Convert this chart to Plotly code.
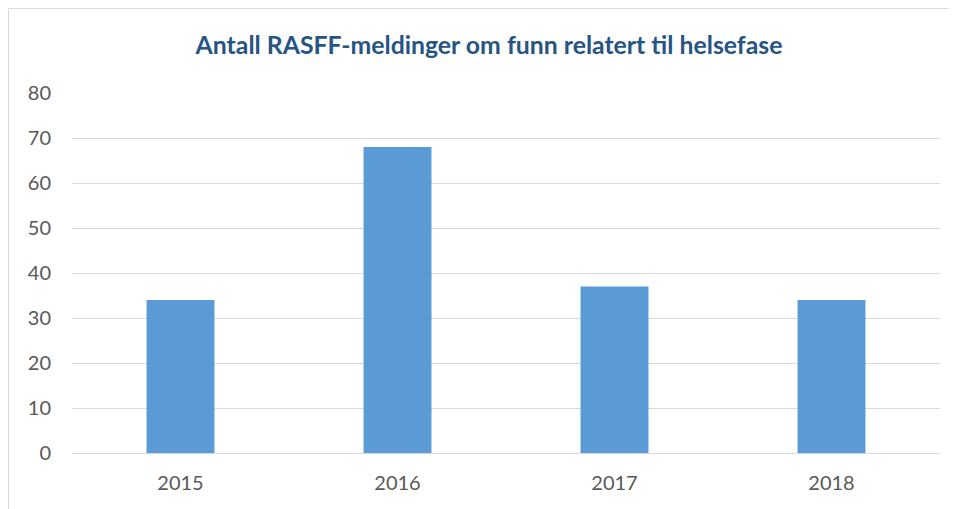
import plotly.graph_objects as go

years = ["2015", "2016", "2017", "2018"]
counts = [34, 68, 37, 34]
title_text = "Antall RASFF-meldinger om funn relatert til helsefase"

OFF = 8  # page body margin
W, H = 957 - OFF, 509 - OFF
ml, mr, mt, mb = 72 - OFF, 17, 93 - OFF, 56
pw, ph = W - ml - mr, H - mt - mb

def px(x):
    return (x - OFF - ml) / pw

def py(y):
    return (H - mb - (y - OFF)) / ph

fig = go.Figure(go.Bar(x=years, y=counts, marker_color="#5B9BD5", marker_line_width=0))

border = dict(color="#D9D9D9", width=1.2)
fig.update_layout(
    width=W, height=H,
    margin=dict(l=ml, r=mr, t=mt, b=mb),
    paper_bgcolor="white", plot_bgcolor="white",
    bargap=0.687,
    font=dict(family="Lato, Open Sans, sans-serif", color="#595959", size=20),
    title=dict(text="<b>" + title_text + "</b>", xref="container", x=(489 - OFF) / W,
               xanchor="center", y=1 - (45 - OFF) / H, yanchor="middle",
               font=dict(size=24.8, color="#265483", family="Lato, Open Sans, sans-serif")),
    showlegend=False,
    shapes=[
        dict(type="line", xref="paper", yref="paper",
             x0=px(8.5), x1=px(8.5), y0=py(510), y1=py(8.5), line=border, layer="below"),
        dict(type="line", xref="paper", yref="paper",
             x0=px(8.5), x1=px(957), y0=py(8.5), y1=py(8.5), line=border, layer="below"),
    ],
)
fig.update_yaxes(range=[0, 80], dtick=10, showgrid=True, gridcolor="#D9D9D9", gridwidth=1.2,
                 zeroline=False, showline=False, ticks="", ticklabelstandoff=20)
fig.update_xaxes(showline=True, linecolor="#D9D9D9", linewidth=1.2, ticks="", ticklabelstandoff=12)

fig.write_html("out.html")
